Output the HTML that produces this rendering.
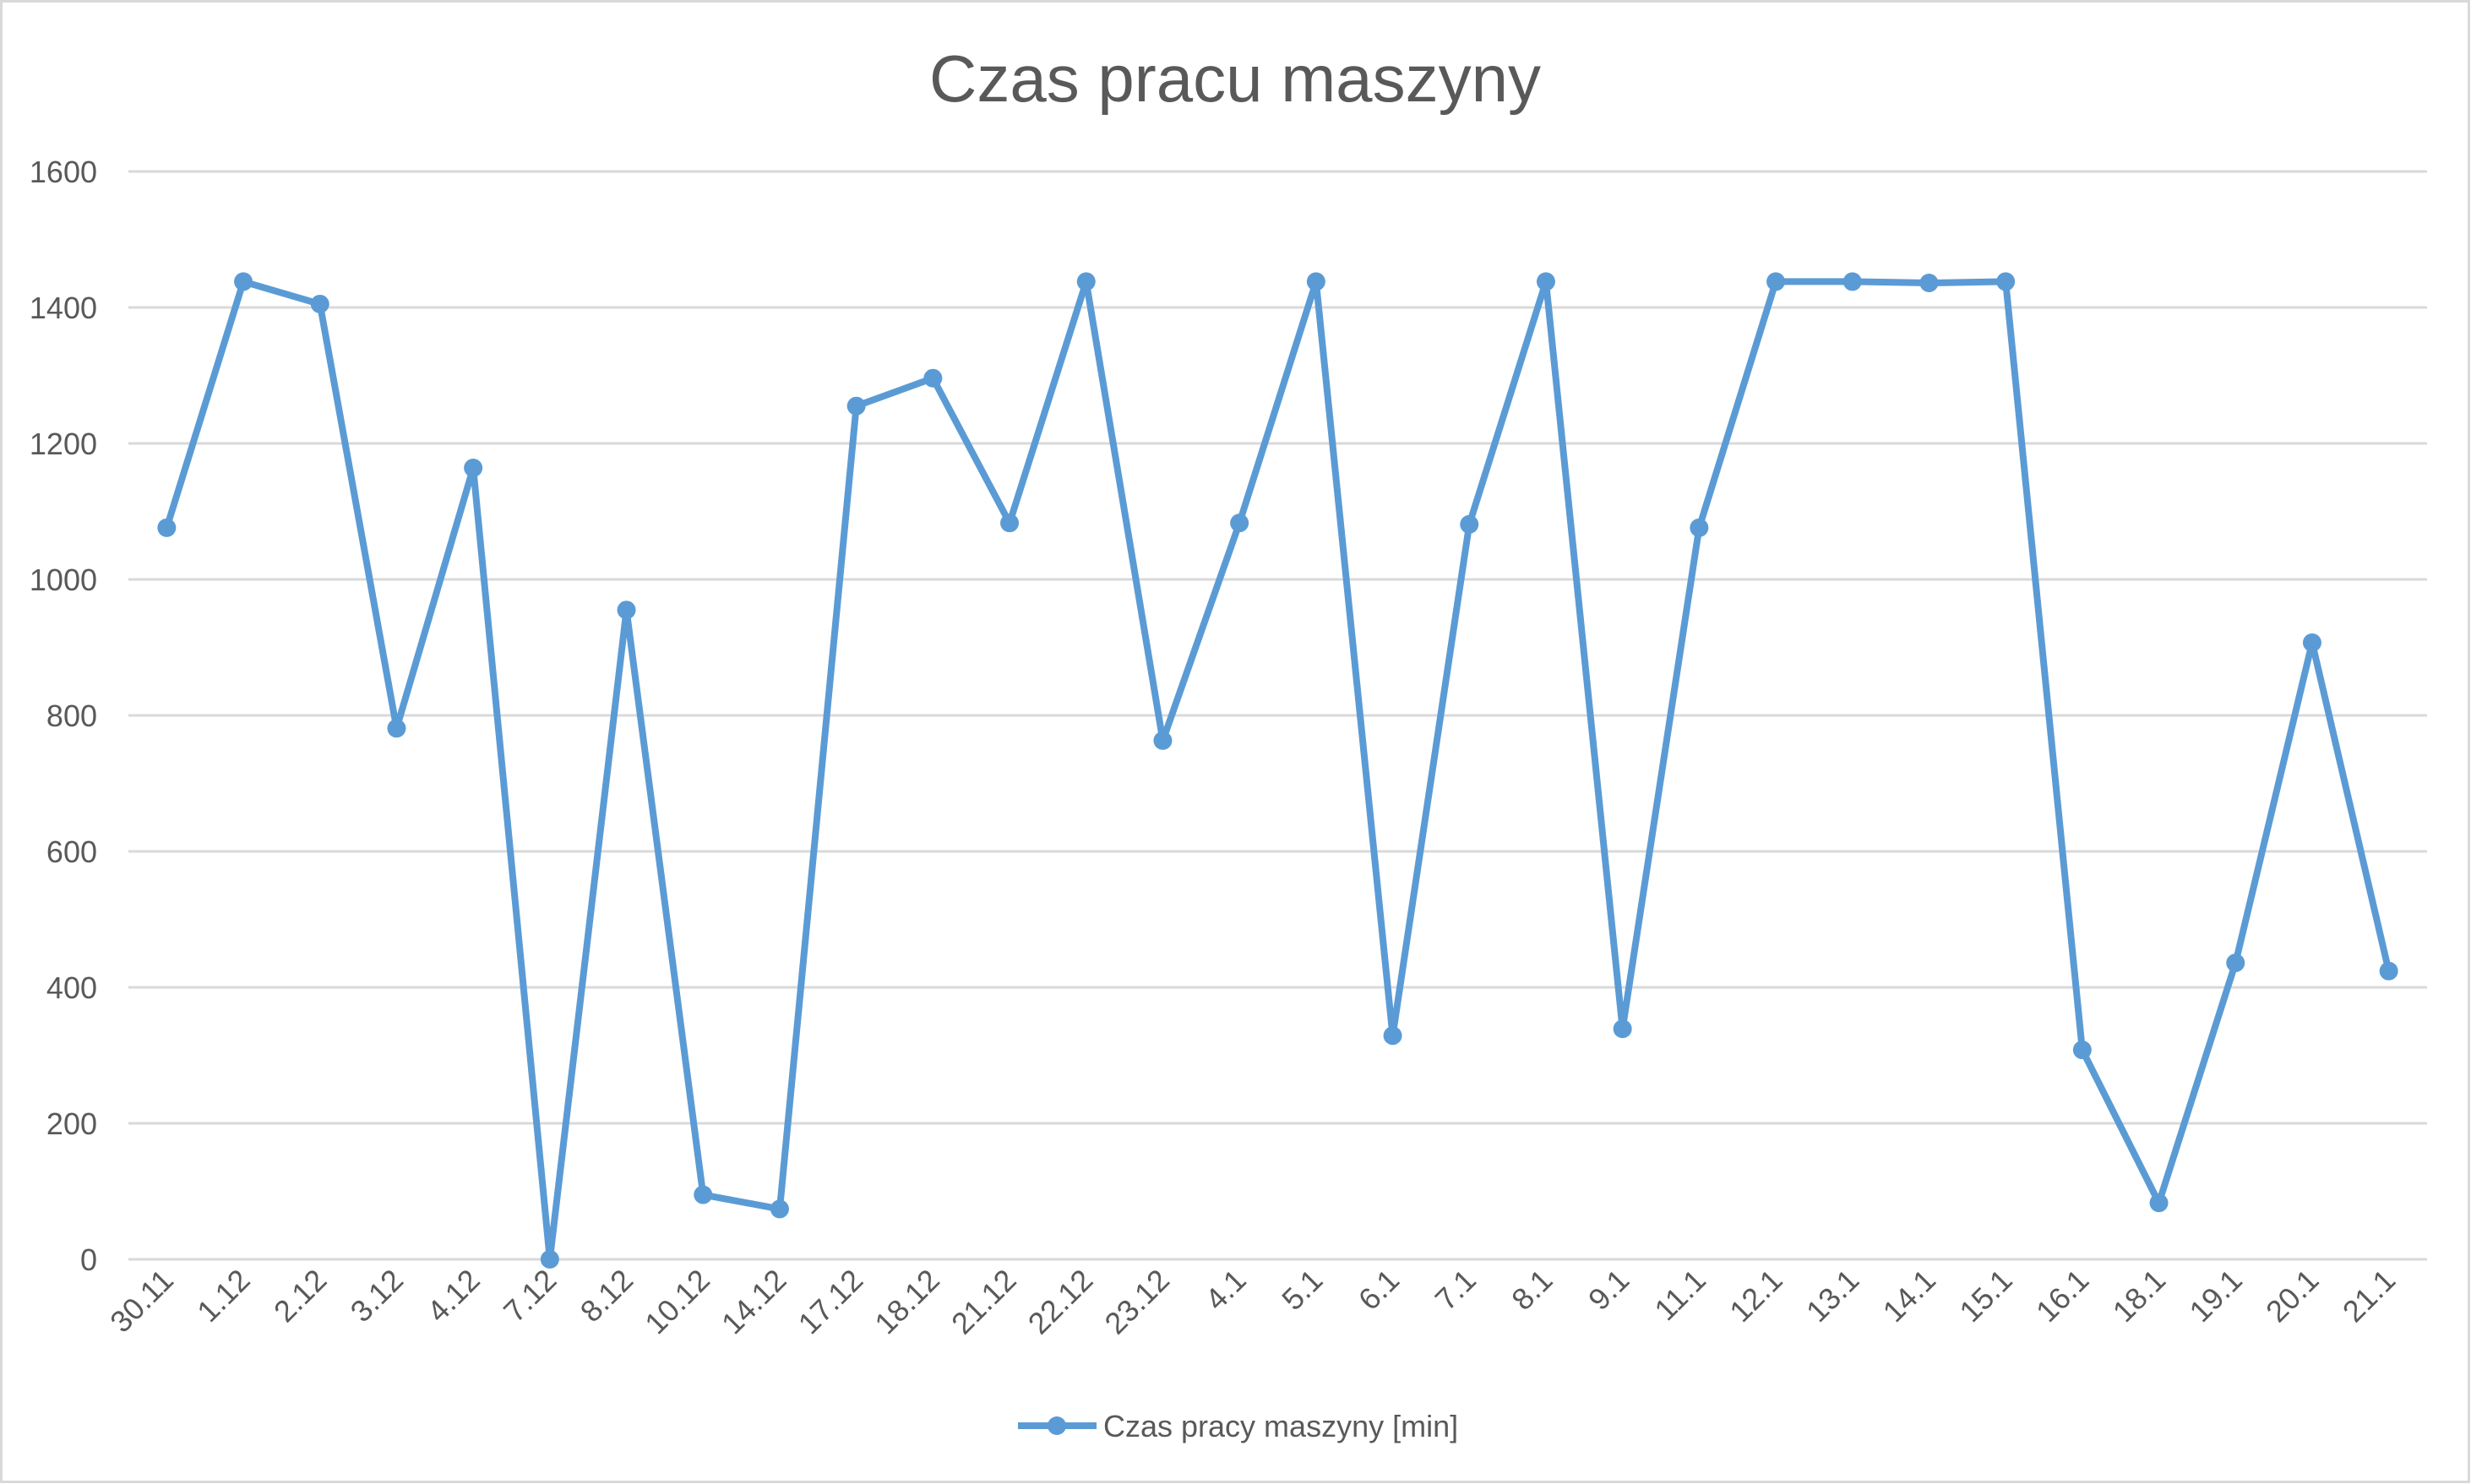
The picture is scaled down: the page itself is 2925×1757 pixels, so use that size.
<!DOCTYPE html>
<html><head><meta charset="utf-8"><style>
html,body{margin:0;padding:0;background:#fff}
svg{display:block;font-family:"Liberation Sans",sans-serif}
</style></head><body>
<svg id="chart" width="2925" height="1757" viewBox="0 0 2925 1757">
<rect x="1.5" y="1.5" width="2921" height="1753" fill="#fff" stroke="#d9d9d9" stroke-width="3"/>
<text x="1462" y="120" text-anchor="middle" font-size="78" fill="#595959">Czas pracu maszyny</text>
<g id="grid"></g><g id="ylabels"></g><g id="xlabels"></g><g id="series"></g>
<g>
<line x1="1205" y1="1688" x2="1298" y2="1688" stroke="#5B9BD5" stroke-width="8"/>
<circle cx="1251" cy="1688" r="11" fill="#5B9BD5"/>
<text x="1306" y="1701" font-size="36" fill="#595959">Czas pracy maszyny [min]</text>
</g>
</svg>
<script>
const categories=["30.11","1.12","2.12","3.12","4.12","7.12","8.12","10.12","14.12","17.12","18.12","21.12","22.12","23.12","4.1","5.1","6.1","7.1","8.1","9.1","11.1","12.1","13.1","14.1","15.1","16.1","18.1","19.1","20.1","21.1"];
const values=[1076,1438,1405,781,1164,0,955,95,74,1255,1296,1083,1438,763,1083,1438,329,1081,1438,339,1076,1438,1438,1436,1438,308,83,436,907,424];
const yTicks=[0,200,400,600,800,1000,1200,1400,1600];
const NS="http://www.w3.org/2000/svg";
const L=152,R=2873,T=203,B=1491,YMAX=1600;
const n=categories.length,step=(R-L)/n;
const xPos=i=>L+step*(i+0.5);
const yPos=v=>B-(v/YMAX)*(B-T);
function mk(tag,attrs,parent){const e=document.createElementNS(NS,tag);for(const k in attrs)e.setAttribute(k,attrs[k]);parent.appendChild(e);return e;}
const grid=document.getElementById('grid'),yl=document.getElementById('ylabels'),xl=document.getElementById('xlabels'),ser=document.getElementById('series');
yTicks.forEach(t=>{
 const g=mk('line',{x1:L,x2:R,y1:yPos(t),y2:yPos(t),stroke:'#d9d9d9','stroke-width':3},grid);
 
 
 const tx=mk('text',{x:115,y:yPos(t)+13,'text-anchor':'end','font-size':36,fill:'#595959'},yl);
 tx.textContent=t;
 
 
});
categories.forEach((c,i)=>{
 const x=xPos(i)+10,y=1518;
 const tx=mk('text',{x:x,y:y,'text-anchor':'end','font-size':36,fill:'#595959',transform:`rotate(-45 ${x} ${y})`},xl);
 tx.textContent=c;
 
 
});
const pts=values.map((v,i)=>xPos(i)+','+yPos(v)).join(' ');
const pl=mk('polyline',{points:pts,fill:'none',stroke:'#5B9BD5','stroke-width':8,'stroke-linejoin':'round'},ser);


values.forEach((v,i)=>{
 const c=mk('circle',{cx:xPos(i),cy:yPos(v),r:11,fill:'#5B9BD5'},ser);
 
 
});
</script>
</body></html>
